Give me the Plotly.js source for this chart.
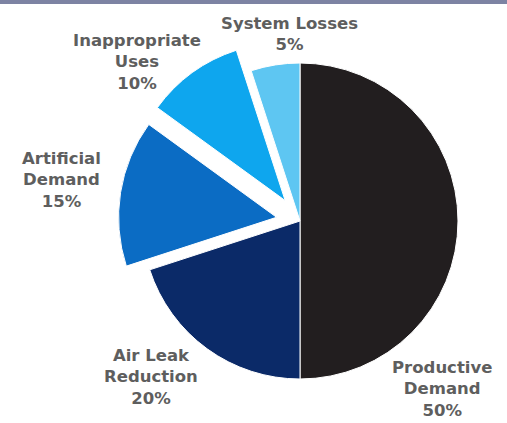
<!DOCTYPE html>
<html>
<head>
<meta charset="utf-8">
<script src="https://cdn.plot.ly/plotly-3.0.1.min.js"></script>
<style>html,body{margin:0;padding:0;background:#fff;}#chart{width:507px;height:423px;}</style>
</head>
<body>
<div id="chart"></div>
<script>
const categories = ["Productive Demand", "Air Leak Reduction", "Artificial Demand", "Inappropriate Uses", "System Losses"];
const labelLines = ["Productive<br>Demand", "Air Leak<br>Reduction", "Artificial<br>Demand", "Inappropriate<br>Uses", "System Losses"];
const values = [50, 20, 15, 10, 5];
const pulls = [0, 0, 0.15, 0.16, 0];
const colors = ["#221e1f", "#0b2a68", "#0b6cc4", "#0ea6ee", "#5ec6f2"];
// label anchor positions in pixels (x, y)
const labelPos = [[442, 389], [151, 377], [61, 180], [137, 62], [289, 34]];

const W = 507, H = 423;
const cx = 300, cy = 221, r = 158, maxPull = Math.max(...pulls);
const half = r * (1 + maxPull);

const trace = {
  type: "pie",
  labels: categories,
  values: values,
  pull: pulls,
  sort: false,
  direction: "clockwise",
  rotation: 0,
  textinfo: "none",
  hoverinfo: "label+percent",
  marker: {colors: colors, line: {color: "#ffffff", width: 1}},
  domain: {x: [(cx - half) / W, (cx + half) / W], y: [(H - cy - half) / H, (H - cy + half) / H]},
  showlegend: false
};

const annotations = categories.map((c, i) => ({
  xref: "paper", yref: "paper",
  x: labelPos[i][0] / W, y: 1 - labelPos[i][1] / H,
  xanchor: "center", yanchor: "middle",
  text: "<b>" + labelLines[i] + "<br>" + values[i] + "%</b>",
  showarrow: false,
  align: "center",
  font: {family: "DejaVu Sans, Verdana, sans-serif", size: 16.5, color: "#5e5e5e"}
}));

const layout = {
  width: W, height: H,
  margin: {l: 0, r: 0, t: 0, b: 0},
  paper_bgcolor: "#ffffff",
  annotations: annotations,
  shapes: [{type: "rect", xref: "paper", yref: "paper", x0: 0, x1: 1, y0: 1 - 4 / H, y1: 1, fillcolor: "#7d83a3", line: {width: 0}, layer: "above"}]
};

Plotly.newPlot("chart", [trace], layout, {displayModeBar: false, staticPlot: true});
</script>
</body>
</html>
